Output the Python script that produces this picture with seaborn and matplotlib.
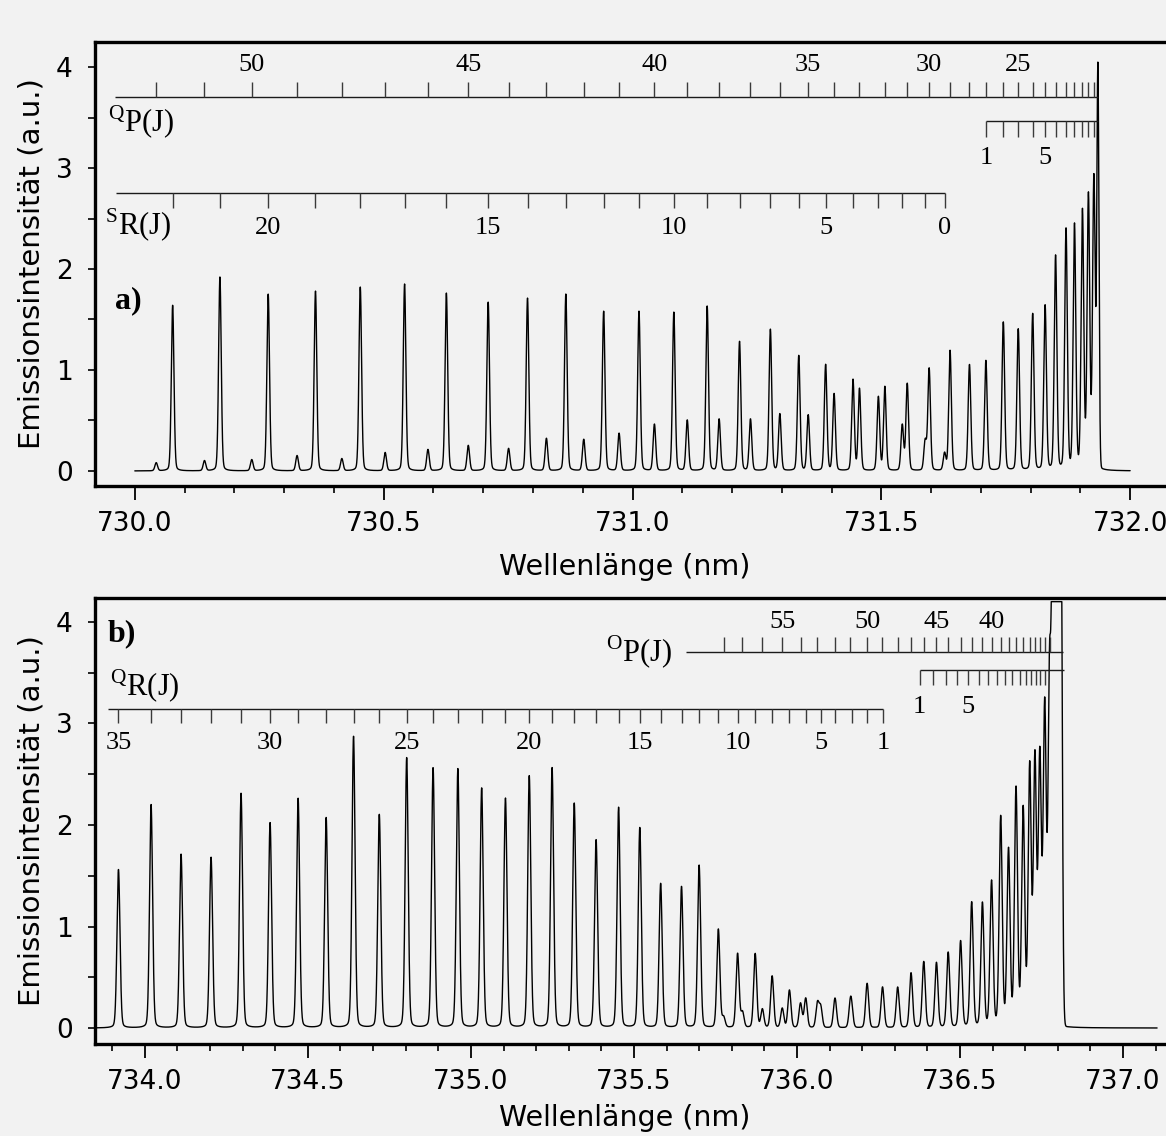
import numpy as np
import pandas as pd
import matplotlib
matplotlib.use("Agg")
import matplotlib.pyplot as plt
from matplotlib.ticker import MultipleLocator, FormatStrFormatter
import seaborn as sns

# ---------------- panel a: 730 - 732 nm ----------------
a_sr_j = list(range(22, -1, -1))
a_sr_pos = [730.076, 730.171, 730.268, 730.363, 730.453, 730.542, 730.626, 730.710,
            730.789, 730.866, 730.942, 731.013, 731.083, 731.150, 731.215, 731.277,
            731.334, 731.388, 731.443, 731.494, 731.542, 731.588, 731.627]
a_sr_int = [1.64, 1.92, 1.75, 1.78, 1.82, 1.85, 1.76, 1.67, 1.71, 1.75, 1.58, 1.58,
            1.57, 1.63, 1.28, 1.40, 1.14, 1.05, 0.90, 0.73, 0.45, 0.29, 0.17]

a_qp_j = list(range(52, 16, -1))
a_qp_pos = [730.043, 730.140, 730.235, 730.326, 730.416, 730.503, 730.589, 730.670,
            730.751, 730.827, 730.902, 730.973, 731.044, 731.110, 731.174, 731.237,
            731.296, 731.353, 731.405, 731.456, 731.507, 731.552, 731.596, 731.638,
            731.677, 731.710, 731.745, 731.775, 731.804, 731.829, 731.850, 731.871,
            731.888, 731.904, 731.916, 731.927]
a_qp_int = [0.08, 0.10, 0.11, 0.15, 0.12, 0.18, 0.21, 0.25, 0.22, 0.32, 0.31, 0.37,
            0.46, 0.50, 0.51, 0.51, 0.56, 0.55, 0.76, 0.81, 0.83, 0.86, 1.01, 1.19,
            1.05, 1.09, 1.47, 1.40, 1.55, 1.63, 2.12, 2.38, 2.42, 2.55, 2.70, 2.90]

a_qp_low_j = list(range(1, 12))
a_qp_low_pos = [731.710, 731.745, 731.775, 731.804, 731.829, 731.850, 731.871,
                731.888, 731.904, 731.916, 731.927]

a_head_pos = [731.935]
a_head_int = [3.95]

# ---------------- panel b: 734 - 737 nm ----------------
b_qr_j = list(range(35, 0, -1))
b_qr_pos = [733.919, 734.019, 734.111, 734.203, 734.295, 734.384, 734.470, 734.556,
            734.640, 734.719, 734.803, 734.884, 734.960, 735.033, 735.106, 735.179,
            735.249, 735.317, 735.384, 735.453, 735.518, 735.582, 735.646, 735.700,
            735.759, 735.818, 735.872, 735.924, 735.977, 736.027, 736.073, 736.118,
            736.168, 736.216, 736.264]
b_qr_int = [1.56, 2.20, 1.71, 1.68, 2.31, 2.02, 2.26, 2.07, 2.87, 2.10, 2.66, 2.56,
            2.55, 2.36, 2.26, 2.48, 2.56, 2.21, 1.85, 2.17, 1.97, 1.42, 1.39, 1.60,
            0.97, 0.73, 0.73, 0.51, 0.37, 0.29, 0.20, 0.12, 0.12, 0.15, 0.12]

b_op_j = list(range(58, 30, -1))
b_op_pos = [735.775, 735.833, 735.894, 735.955, 736.011, 736.063, 736.116, 736.164,
            736.215, 736.262, 736.309, 736.350, 736.389, 736.428, 736.464, 736.502,
            736.536, 736.569, 736.597, 736.625, 736.649, 736.672, 736.694, 736.714,
            736.730, 736.745, 736.760, 736.775]
b_op_int = [0.10, 0.15, 0.18, 0.19, 0.24, 0.24, 0.18, 0.22, 0.29, 0.29, 0.40, 0.54,
            0.65, 0.64, 0.74, 0.85, 1.23, 1.22, 1.43, 2.06, 1.73, 2.33, 2.12, 2.53,
            2.60, 2.61, 3.10, 3.50]

b_op_low_j = list(range(1, 17))
b_op_low_pos = [736.376, 736.417, 736.456, 736.492, 736.525, 736.559, 736.587,
                736.614, 736.638, 736.661, 736.684, 736.702, 736.719, 736.733,
                736.747, 736.760]

b_head_pos = [736.786, 736.798, 736.809]
b_head_int = [6.0, 6.0, 6.0]
b_saturation = 4.2


def profile(wl, pos, amp, fwhm, frac_l=0.15):
    pos = np.asarray(pos)
    amp = np.asarray(amp)
    d = wl[:, None] - pos[None, :]
    g = np.exp(-0.5 * (d / (fwhm / 2.3548)) ** 2)
    l = 1.0 / (1.0 + (d / (fwhm / 2)) ** 2)
    return ((1 - frac_l) * g + frac_l * l) @ amp


def ladder(ax, pos, js, shown, y, dy, ylab, x0, x1):
    ax.hlines(y, x0, x1, color="#1a1a1a", lw=1.0)
    ax.vlines(pos, y, y + dy, color="#3a3a3a", lw=1.0)
    for j, p in zip(js, pos):
        if j in shown:
            ax.text(p, ylab, str(j), ha="center", va="center", fontsize=19,
                    family="Liberation Serif")


def style_axis(ax, xlim, ylim):
    ax.set_xlim(*xlim)
    ax.set_ylim(*ylim)
    ax.xaxis.set_major_locator(MultipleLocator(0.5))
    ax.xaxis.set_minor_locator(MultipleLocator(0.1))
    ax.xaxis.set_major_formatter(FormatStrFormatter("%.1f"))
    ax.yaxis.set_major_locator(MultipleLocator(1))
    ax.yaxis.set_minor_locator(MultipleLocator(0.5))
    ax.tick_params(axis="x", which="major", direction="out", length=10, width=1.3,
                   labelsize=19, pad=8)
    ax.tick_params(axis="x", which="minor", direction="out", length=5, width=1.2)
    ax.tick_params(axis="y", which="both", direction="out", length=5, width=1.2,
                   labelsize=19, pad=11)
    for s in ax.spines.values():
        s.set_linewidth(2.4)
        s.set_color("black")
    ax.set_xlabel("Wellenlänge (nm)", fontsize=20.5)
    ax.set_ylabel("Emissionsintensität (a.u.)", fontsize=21)


sns.set_theme(style="ticks")
plt.rcParams["font.family"] = ["DejaVu Sans"]
plt.rcParams["mathtext.fontset"] = "custom"
plt.rcParams["mathtext.rm"] = "Liberation Serif"
for key in ["text.color", "axes.labelcolor", "xtick.color", "ytick.color"]:
    plt.rcParams[key] = "black"
bg = "#f2f2f2"

fig = plt.figure(figsize=(11.66, 11.36), dpi=100, facecolor=bg)
ax_a = fig.add_axes([95 / 1166, 1 - 486 / 1136, 1085 / 1166, 444 / 1136], facecolor=bg)
ax_b = fig.add_axes([95 / 1166, 1 - 1044 / 1136, 1085 / 1166, 446 / 1136], facecolor=bg)

# spectrum a
wl_a = np.arange(730.0, 732.0, 0.0002)
int_a = (profile(wl_a, a_sr_pos + a_qp_pos, a_sr_int + a_qp_int, fwhm=0.0062)
         + profile(wl_a, a_head_pos, a_head_int, fwhm=0.0050, frac_l=0.0))
df_a = pd.DataFrame({"wl": wl_a, "I": int_a})
sns.lineplot(data=df_a, x="wl", y="I", ax=ax_a, color="black", lw=1.0,
             estimator=None, sort=False)
style_axis(ax_a, (729.920, 732.100), (-0.149, 4.248))

ladder(ax_a, a_qp_pos, a_qp_j, [50, 45, 40, 35, 30, 25], 3.70, 0.15, 4.02,
       729.960, a_head_pos[0])
ladder(ax_a, a_qp_low_pos, a_qp_low_j, [1, 5], 3.465, -0.155, 3.10,
       a_qp_low_pos[0], a_head_pos[0])
ladder(ax_a, a_sr_pos, a_sr_j, [20, 15, 10, 5, 0], 2.75, -0.15, 2.41,
       729.962, a_sr_pos[-1])
ax_a.text(729.946, 3.45, r"${}^{\mathrm{Q}}$P(J)", ha="left", va="center",
          fontsize=22, family="Liberation Serif")
ax_a.text(729.940, 2.43, r"${}^{\mathrm{S}}$R(J)", ha="left", va="center",
          fontsize=22, family="Liberation Serif")
ax_a.text(729.960, 1.69, "a)", ha="left", va="center", fontsize=23,
          fontweight="bold", family="Liberation Serif")

# spectrum b
wl_b = np.arange(733.85, 737.105, 0.0003)
int_b = (profile(wl_b, b_qr_pos + b_op_pos, b_qr_int + b_op_int, fwhm=0.011)
         + profile(wl_b, b_head_pos, b_head_int, fwhm=0.010, frac_l=0.0))
int_b = np.minimum(int_b, b_saturation)
df_b = pd.DataFrame({"wl": wl_b, "I": int_b})
sns.lineplot(data=df_b, x="wl", y="I", ax=ax_b, color="black", lw=1.0,
             estimator=None, sort=False)
style_axis(ax_b, (733.847, 737.175), (-0.157, 4.236))

ladder(ax_b, b_op_pos, b_op_j, [55, 50, 45, 40], 3.705, 0.15, 4.0,
       735.661, 736.816)
ladder(ax_b, b_op_low_pos, b_op_low_j, [1, 5], 3.53, -0.15, 3.16,
       b_op_low_pos[0], 736.820)
ladder(ax_b, b_qr_pos, b_qr_j, [35, 30, 25, 20, 15, 10, 5, 1], 3.145, -0.145, 2.81,
       733.887, b_qr_pos[-1])
ax_b.text(735.617, 3.70, r"${}^{\mathrm{O}}$P(J)", ha="right", va="center",
          fontsize=22, family="Liberation Serif")
ax_b.text(733.893, 3.37, r"${}^{\mathrm{Q}}$R(J)", ha="left", va="center",
          fontsize=22, family="Liberation Serif")
ax_b.text(733.887, 3.88, "b)", ha="left", va="center", fontsize=23,
          fontweight="bold", family="Liberation Serif")

for ax in (ax_a, ax_b):
    ax.yaxis.set_label_coords(-0.046, 0.5)
ax_a.xaxis.set_label_coords(0.488, -0.15)
ax_b.xaxis.set_label_coords(0.488, -0.135)

fig.savefig("out.png", dpi=100, facecolor=bg)
